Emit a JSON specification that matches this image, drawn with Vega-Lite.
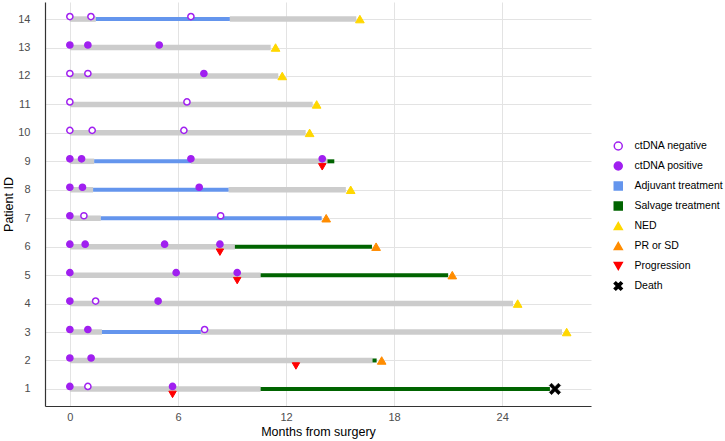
{
  "$schema": "https://vega.github.io/schema/vega-lite/v6.json",
  "width": 546,
  "height": 404,
  "autosize": {"type": "none"},
  "padding": {"left": 45, "top": 2, "right": 134, "bottom": 35},
  "background": "white",
  "config": {
    "font": "Liberation Sans",
    "view": {"stroke": null},
    "axis": {
      "gridColor": "#E3E3E3",
      "gridWidth": 1,
      "domainColor": "#333333",
      "domainWidth": 1.2,
      "ticks": false,
      "tickSize": 0,
      "labelFont": "Liberation Sans",
      "labelFontSize": 11,
      "labelColor": "#4D4D4D",
      "titleFont": "Liberation Sans",
      "titleFontSize": 12.5,
      "titleFontWeight": "normal",
      "titleColor": "#000000"
    },
    "legend": {
      "labelFont": "Liberation Sans",
      "labelFontSize": 10.5,
      "labelFontWeight": "normal",
      "labelColor": "#000000",
      "symbolSize": 64,
      "symbolStrokeWidth": 1.5,
      "padding": 0,
      "rowPadding": 0,
      "clipHeight": 20,
      "labelOffset": 11
    }
  },
  "datasets": {
    "bars": [
      {"id": 14, "start": 0, "end": 1.44, "kind": "Follow-up"},
      {"id": 14, "start": 8.88, "end": 15.9, "kind": "Follow-up"},
      {"id": 14, "start": 1.44, "end": 8.88, "kind": "Adjuvant treatment"},
      {"id": 13, "start": 0, "end": 11.15, "kind": "Follow-up"},
      {"id": 12, "start": 0, "end": 11.57, "kind": "Follow-up"},
      {"id": 11, "start": 0, "end": 13.48, "kind": "Follow-up"},
      {"id": 10, "start": 0, "end": 13.09, "kind": "Follow-up"},
      {"id": 9, "start": 0, "end": 1.35, "kind": "Follow-up"},
      {"id": 9, "start": 6.72, "end": 14.3, "kind": "Follow-up"},
      {"id": 9, "start": 1.35, "end": 6.72, "kind": "Adjuvant treatment"},
      {"id": 9, "start": 14.3, "end": 14.68, "kind": "Salvage treatment"},
      {"id": 8, "start": 0, "end": 1.29, "kind": "Follow-up"},
      {"id": 8, "start": 8.81, "end": 15.32, "kind": "Follow-up"},
      {"id": 8, "start": 1.29, "end": 8.81, "kind": "Adjuvant treatment"},
      {"id": 7, "start": 0, "end": 1.72, "kind": "Follow-up"},
      {"id": 7, "start": 1.72, "end": 13.98, "kind": "Adjuvant treatment"},
      {"id": 6, "start": 0, "end": 9.16, "kind": "Follow-up"},
      {"id": 6, "start": 9.16, "end": 16.77, "kind": "Salvage treatment"},
      {"id": 5, "start": 0, "end": 10.59, "kind": "Follow-up"},
      {"id": 5, "start": 10.59, "end": 21.0, "kind": "Salvage treatment"},
      {"id": 4, "start": 0, "end": 24.6, "kind": "Follow-up"},
      {"id": 3, "start": 0, "end": 1.78, "kind": "Follow-up"},
      {"id": 3, "start": 7.27, "end": 27.32, "kind": "Follow-up"},
      {"id": 3, "start": 1.78, "end": 7.27, "kind": "Adjuvant treatment"},
      {"id": 2, "start": 0, "end": 16.8, "kind": "Follow-up"},
      {"id": 2, "start": 16.8, "end": 17.03, "kind": "Salvage treatment"},
      {"id": 1, "start": 0, "end": 10.59, "kind": "Follow-up"},
      {"id": 1, "start": 10.59, "end": 26.65, "kind": "Salvage treatment"}
    ],
    "events": [
      {"id": 14, "t": 0, "type": "ctDNA negative"},
      {"id": 14, "t": 1.17, "type": "ctDNA negative"},
      {"id": 14, "t": 6.72, "type": "ctDNA negative"},
      {"id": 14, "t": 16.1, "type": "NED"},
      {"id": 13, "t": 0, "type": "ctDNA positive"},
      {"id": 13, "t": 1.0, "type": "ctDNA positive"},
      {"id": 13, "t": 4.96, "type": "ctDNA positive"},
      {"id": 13, "t": 11.42, "type": "NED"},
      {"id": 12, "t": 0, "type": "ctDNA negative"},
      {"id": 12, "t": 1.0, "type": "ctDNA negative"},
      {"id": 12, "t": 7.44, "type": "ctDNA positive"},
      {"id": 12, "t": 11.79, "type": "NED"},
      {"id": 11, "t": 0, "type": "ctDNA negative"},
      {"id": 11, "t": 6.5, "type": "ctDNA negative"},
      {"id": 11, "t": 13.7, "type": "NED"},
      {"id": 10, "t": 0, "type": "ctDNA negative"},
      {"id": 10, "t": 1.24, "type": "ctDNA negative"},
      {"id": 10, "t": 6.33, "type": "ctDNA negative"},
      {"id": 10, "t": 13.31, "type": "NED"},
      {"id": 9, "t": 0, "type": "ctDNA positive"},
      {"id": 9, "t": 0.65, "type": "ctDNA positive"},
      {"id": 9, "t": 6.72, "type": "ctDNA positive"},
      {"id": 9, "t": 14.01, "type": "ctDNA positive"},
      {"id": 9, "t": 14.01, "type": "Progression"},
      {"id": 8, "t": 0, "type": "ctDNA positive"},
      {"id": 8, "t": 0.7, "type": "ctDNA positive"},
      {"id": 8, "t": 7.18, "type": "ctDNA positive"},
      {"id": 8, "t": 15.59, "type": "NED"},
      {"id": 7, "t": 0, "type": "ctDNA positive"},
      {"id": 7, "t": 0.78, "type": "ctDNA negative"},
      {"id": 7, "t": 8.37, "type": "ctDNA negative"},
      {"id": 7, "t": 14.23, "type": "PR or SD"},
      {"id": 6, "t": 0, "type": "ctDNA positive"},
      {"id": 6, "t": 0.85, "type": "ctDNA positive"},
      {"id": 6, "t": 5.26, "type": "ctDNA positive"},
      {"id": 6, "t": 8.33, "type": "ctDNA positive"},
      {"id": 6, "t": 8.33, "type": "Progression"},
      {"id": 6, "t": 17.0, "type": "PR or SD"},
      {"id": 5, "t": 0, "type": "ctDNA positive"},
      {"id": 5, "t": 5.9, "type": "ctDNA positive"},
      {"id": 5, "t": 9.29, "type": "ctDNA positive"},
      {"id": 5, "t": 9.29, "type": "Progression"},
      {"id": 5, "t": 21.23, "type": "PR or SD"},
      {"id": 4, "t": 0, "type": "ctDNA positive"},
      {"id": 4, "t": 1.43, "type": "ctDNA negative"},
      {"id": 4, "t": 4.9, "type": "ctDNA positive"},
      {"id": 4, "t": 24.86, "type": "NED"},
      {"id": 3, "t": 0, "type": "ctDNA positive"},
      {"id": 3, "t": 1.0, "type": "ctDNA positive"},
      {"id": 3, "t": 7.48, "type": "ctDNA negative"},
      {"id": 3, "t": 27.58, "type": "NED"},
      {"id": 2, "t": 0, "type": "ctDNA positive"},
      {"id": 2, "t": 1.18, "type": "ctDNA positive"},
      {"id": 2, "t": 12.55, "type": "Progression"},
      {"id": 2, "t": 17.31, "type": "PR or SD"},
      {"id": 1, "t": 0, "type": "ctDNA positive"},
      {"id": 1, "t": 1.0, "type": "ctDNA negative"},
      {"id": 1, "t": 5.7, "type": "ctDNA positive"},
      {"id": 1, "t": 5.7, "type": "Progression"},
      {"id": 1, "t": 26.93, "type": "Death"}
    ]
  },
  "encoding": {
    "y": {
      "field": "id", "type": "quantitative",
      "scale": {"domain": [0.4, 14.6], "nice": false, "zero": false},
      "axis": {
        "values": [1,2,3,4,5,6,7,8,9,10,11,12,13,14],
        "format": "d",
        "title": "Patient ID",
        "labelPadding": 15,
        "titleX": -37, "titleY": 202, "titleAngle": -90,
        "titleAlign": "center", "titleBaseline": "middle"
      }
    }
  },
  "layer": [
    {
      "data": {"name": "bars"},
      "transform": [{"filter": "datum.kind === 'Follow-up'"}],
      "mark": {"type": "rule", "strokeWidth": 5.5, "color": "#CCCCCC"},
      "encoding": {
        "x": {
          "field": "start", "type": "quantitative",
          "scale": {"domain": [-1.38, 28.93], "nice": false, "zero": false},
          "axis": {
            "values": [0, 6, 12, 18, 24],
            "title": "Months from surgery",
            "labelPadding": 5,
            "titleX": 273, "titleY": 25.7, "titleAlign": "center", "titleBaseline": "middle"
          }
        },
        "x2": {"field": "end"}
      }
    },
    {
      "data": {"name": "bars"},
      "transform": [{"filter": "datum.kind !== 'Follow-up'"}],
      "mark": {"type": "rule", "strokeWidth": 4},
      "encoding": {
        "x": {"field": "start", "type": "quantitative"},
        "x2": {"field": "end"},
        "color": {
          "field": "kind", "type": "nominal",
          "scale": {"domain": ["Adjuvant treatment", "Salvage treatment"], "range": ["#6495ED", "#006400"]},
          "legend": null
        }
      }
    },
    {
      "data": {"name": "events"},
      "transform": [{"filter": "datum.type === 'ctDNA negative' || datum.type === 'ctDNA positive'"}],
      "mark": {"type": "point", "filled": true, "strokeWidth": 1.5, "opacity": 1, "size": 38, "yOffset": -2.5},
      "encoding": {
        "x": {"field": "t", "type": "quantitative"},
        "shape": {"field": "type", "type": "nominal",
          "scale": {"domain": ["ctDNA negative","ctDNA positive","Adjuvant treatment","Salvage treatment","NED","PR or SD","Progression","Death"],
                    "range": ["circle","circle","square","square","triangle-up","triangle-up","triangle-down","M-1,-0.6L-0.6,-1L0,-0.4L0.6,-1L1,-0.6L0.4,0L1,0.6L0.6,1L0,0.4L-0.6,1L-1,0.6L-0.4,0Z"]},
          "legend": {"title": null, "orient": "none", "legendX": 568, "legendY": 134}},
        "fill": {"field": "type", "type": "nominal",
          "scale": {"domain": ["ctDNA negative","ctDNA positive","Adjuvant treatment","Salvage treatment","NED","PR or SD","Progression","Death"],
                    "range": ["#FFFFFF","#A020F0","#6495ED","#006400","#FFD700","#FF8C00","#FF0000","#000000"]},
          "legend": {"title": null, "orient": "none", "legendX": 568, "legendY": 134}},
        "stroke": {"field": "type", "type": "nominal",
          "scale": {"domain": ["ctDNA negative","ctDNA positive","Adjuvant treatment","Salvage treatment","NED","PR or SD","Progression","Death"],
                    "range": ["#A020F0","#A020F0","#6495ED","#006400","#FFD700","#FF8C00","#FF0000","#000000"]},
          "legend": {"title": null, "orient": "none", "legendX": 568, "legendY": 134}}
      }
    },
    {
      "data": {"name": "events"},
      "transform": [{"filter": "datum.type === 'NED' || datum.type === 'PR or SD'"}],
      "mark": {"type": "point", "filled": true, "strokeWidth": 1, "opacity": 1, "size": 75},
      "encoding": {
        "x": {"field": "t", "type": "quantitative"},
        "shape": {"field": "type", "type": "nominal"},
        "fill": {"field": "type", "type": "nominal"},
        "stroke": {"field": "type", "type": "nominal"}
      }
    },
    {
      "data": {"name": "events"},
      "transform": [{"filter": "datum.type === 'Death'"}],
      "mark": {"type": "point", "filled": true, "strokeWidth": 0.5, "opacity": 1, "size": 130},
      "encoding": {
        "x": {"field": "t", "type": "quantitative"},
        "shape": {"field": "type", "type": "nominal"},
        "fill": {"field": "type", "type": "nominal"},
        "stroke": {"field": "type", "type": "nominal"}
      }
    },
    {
      "data": {"name": "events"},
      "transform": [{"filter": "datum.type === 'Progression'"}],
      "mark": {"type": "point", "filled": true, "strokeWidth": 1, "opacity": 1, "size": 55, "yOffset": 5.5},
      "encoding": {
        "x": {"field": "t", "type": "quantitative"},
        "shape": {"field": "type", "type": "nominal"},
        "fill": {"field": "type", "type": "nominal"},
        "stroke": {"field": "type", "type": "nominal"}
      }
    }
  ]
}
